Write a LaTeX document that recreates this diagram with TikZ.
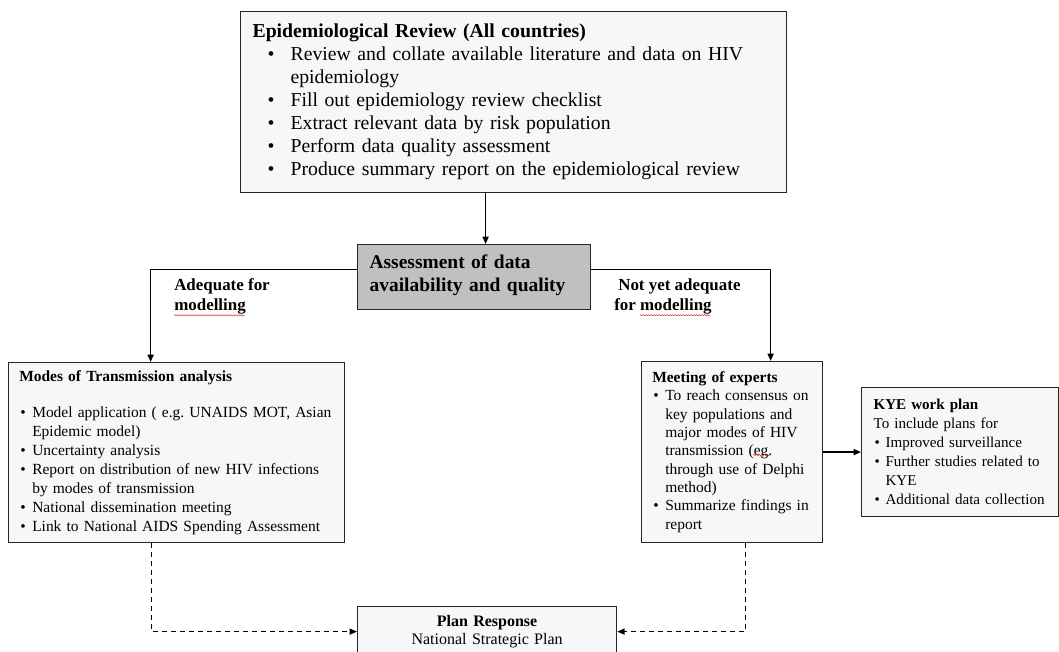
\documentclass[tikz,border=0pt]{standalone}
\usepackage{fontspec}
\setmainfont{Liberation Serif}
\usepackage{xcolor}
\usetikzlibrary{arrows.meta,decorations.pathmorphing}
\definecolor{paleGray}{HTML}{F7F7F7}
\definecolor{midGray}{HTML}{C0C0C0}
\definecolor{edgeGray}{HTML}{262626}
\definecolor{spellRed}{HTML}{E04040}
\hyphenpenalty=10000
\exhyphenpenalty=10000
\frenchspacing

% bullet line: [bullet indent]{text indent}{text}
\newcommand{\dotitem}[3][0pt]{\par\noindent\hangindent=#2\hangafter=1%
  \makebox[#2][l]{\hspace*{#1}\textbullet}#3\par}

\tikzset{
  panel/.style={draw=edgeGray, fill=paleGray, line width=0.9pt, anchor=north west,
    align=left, inner ysep=0pt},
  flow/.style={-{Triangle[length=5.5pt,width=4.5pt]}, line width=1.2pt},
  dashflow/.style={flow, line width=1pt, dash pattern=on 3.75pt off 3pt},
  branch/.style={anchor=north west, inner sep=0pt, align=left,
    font=\bfseries\fontsize{12.7}{15}\selectfont},
  squiggle/.style={spellRed, line width=0.4pt, decorate,
    decoration={snake, amplitude=0.5pt, segment length=2pt}},
}

\begin{document}
\begin{tikzpicture}[x=0.75pt,y=-0.75pt]
  \useasboundingbox (0,0) rectangle (1059,652);

  % Review of the epidemic
  \node [panel, inner xsep=9pt, text width=391.5pt, minimum height=135.75pt,
    font=\fontsize{14.8}{17.25}\selectfont] (epi) at (240,11)
    {\textbf{Epidemiological Review (All countries)}
     \dotitem[11.25pt]{28.5pt}{Review and collate available literature and data on HIV\newline epidemiology}
     \dotitem[11.25pt]{28.5pt}{Fill out epidemiology review checklist}
     \dotitem[11.25pt]{28.5pt}{Extract relevant data by risk population}
     \dotitem[11.25pt]{28.5pt}{Perform data quality assessment}
     \dotitem[11.25pt]{28.5pt}{Produce summary report on the epidemiological review}};

  % Decision box
  \node [panel, fill=midGray, inner xsep=9pt, text width=156.75pt, minimum height=48.75pt,
    font=\bfseries\fontsize{14.6}{17.25}\selectfont] (assess) at (357,244)
    {Assessment of data\\availability and quality\vspace{3pt}};

  % Branch labels
  \node [branch] (yeslbl) at (174,278.5) {Adequate for\\modelling};
  \node [branch] (nolbl) at (614,278.5) {\hspace*{3pt}Not yet adequate\\for modelling};

  % Modelling branch
  \node [panel, inner xsep=8pt, text width=236pt, minimum height=135pt,
    font=\fontsize{11.6}{14.25}\selectfont] (mot) at (8,362)
    {\textbf{Modes of Transmission analysis}\par\vspace{12.75pt}
     \dotitem[0.75pt]{9.75pt}{Model application ( e.g. UNAIDS MOT, Asian\newline Epidemic model)}
     \dotitem[0.75pt]{9.75pt}{Uncertainty analysis}
     \dotitem[0.75pt]{9.75pt}{Report on distribution of new HIV infections\newline by modes of transmission}
     \dotitem[0.75pt]{9.75pt}{National dissemination meeting}
     \dotitem[0.75pt]{9.75pt}{Link to National AIDS Spending Assessment}};

  % Expert branch
  \node [panel, inner xsep=8pt, text width=119.75pt, minimum height=135.75pt,
    font=\fontsize{11.6}{13.75}\selectfont] (experts) at (641,361)
    {\textbf{Meeting of experts}
     \dotitem[0.75pt]{9.75pt}{To reach consensus on\newline key populations and\newline major modes of HIV\newline
             transmission (eg.\newline through use of Delphi\newline method)}
     \dotitem[0.75pt]{9.75pt}{Summarize findings in\newline report}};

  \node [panel, inner xsep=9pt, text width=129.75pt, minimum height=96.75pt,
    font=\fontsize{11.3}{14.25}\selectfont] (kye) at (861,387)
    {\textbf{KYE work plan}\\To include plans for
     \dotitem[0.75pt]{9pt}{Improved surveillance}
     \dotitem[0.75pt]{9pt}{Further studies related to\newline KYE}
     \dotitem[0.75pt]{9pt}{Additional data collection}};

  % Response
  \node [panel, inner xsep=9pt, text width=176.25pt, minimum height=37.5pt, align=center,
    font=\fontsize{12}{13.5}\selectfont] (plan) at (357,606)
    {\textbf{Plan Response}\\National Strategic Plan};

  % Connectors
  \draw [flow] ([xshift=-21pt]epi.south) -- ([xshift=-21pt]epi.south |- assess.north);
  \draw [flow] ([yshift=5.6pt]assess.west) -| ([xshift=-19.5pt]mot.north);
  \draw [flow] ([yshift=5.6pt]assess.east) -| ([xshift=28.9pt]experts.north);
  \draw [flow] (experts.east) -- (experts.east -| kye.west);
  \draw [dashflow] ([xshift=-18.75pt]mot.south) |- (plan.west);
  \draw [dashflow] ([xshift=10.1pt]experts.south) |- (plan.east);

  % spell-check marks
  \draw [squiggle] ([yshift=-0.5pt]yeslbl.south west) -- ++(53pt,0);
  \draw [squiggle] ([xshift=19.5pt,yshift=-0.5pt]nolbl.south west) -- ++(53pt,0);
  \draw [squiggle] ([xshift=84pt,yshift=-70.5pt]experts.north west) -- ++(13pt,0);
\end{tikzpicture}
\end{document}
